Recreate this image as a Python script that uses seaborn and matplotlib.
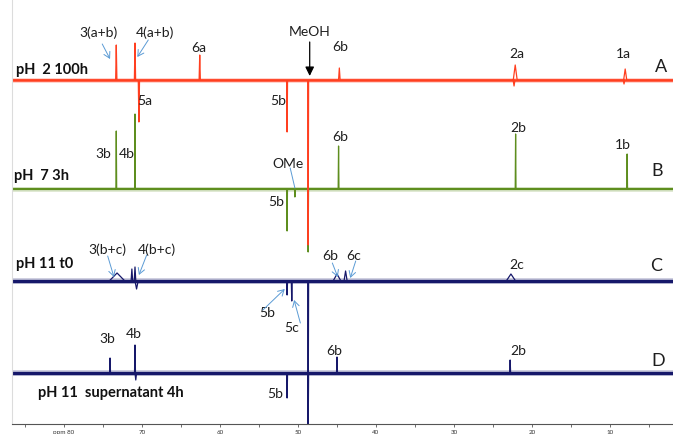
import numpy as np
import pandas as pd
import matplotlib
matplotlib.use("Agg")
import matplotlib.pyplot as plt
import seaborn as sns

# 13C NMR peak lists (chemical shift in ppm, signed intensity, line width in ppm)
spectra_names = ["A", "B", "C", "D"]
titles = ["pH  2 100h", "pH  7 3h", "pH 11 t0", "pH 11  supernatant 4h"]
colors = ["#FF3F20", "#5E8E1E", "#16186A", "#16186A"]

shifts_A = [73.3, 70.9, 70.4, 62.6, 51.4, 48.7, 44.7, 22.3, 22.15, 8.2, 8.05]
inten_A = [35, 37, -42, 25, -52, -165, 12, -6, 15, -4, 11]
width_A = [0.08, 0.08, 0.08, 0.08, 0.06, 0.06, 0.1, 0.12, 0.25, 0.1, 0.2]

shifts_B = [73.3, 70.9, 51.4, 50.4, 48.7, 44.8, 22.1, 7.8]
inten_B = [58, 75, -42, -8, -63, 43, 55, 35]
width_B = [0.05, 0.05, 0.05, 0.05, 0.05, 0.05, 0.05, 0.05]

shifts_C = [73.2, 71.3, 70.9, 70.7, 51.4, 50.8, 48.7, 45.0, 43.9, 22.7]
inten_C = [8, 12, 14, -8, -14, -20, -150, 7, 10, 7]
width_C = [1.0, 0.1, 0.1, 0.2, 0.06, 0.06, 0.06, 0.5, 0.2, 0.6]

shifts_D = [74.1, 70.9, 70.8, 51.4, 48.7, 45.0, 22.8]
inten_D = [15, 28, -7, -25, -60, 16, 13]
width_D = [0.06, 0.06, 0.1, 0.06, 0.06, 0.06, 0.06]

# axis tick values
major_ticks = [80, 70, 60, 50, 40, 30, 20, 10]
major_labels = ["ppm 80", "70", "60", "50", "40", "30", "20", "10"]
minor_ticks = [85, 75, 65, 55, 45, 35, 25, 15, 5]

peaks = {
    "A": (shifts_A, inten_A, width_A),
    "B": (shifts_B, inten_B, width_B),
    "C": (shifts_C, inten_C, width_C),
    "D": (shifts_D, inten_D, width_D),
}

X_LEFT, X_RIGHT = 86.67, 1.92
offsets = {"A": 344, "B": 235, "C": 143, "D": 51}
noise_lw = {"A": 1.8, "B": 1.6, "C": 2.4, "D": 2.4}


def trace(name):
    s, h, w = peaks[name]
    base = offsets[name]
    xs, ys = [X_LEFT], [base]
    for p, a, wd in sorted(zip(s, h, w), key=lambda t: -t[0]):
        xs += [p + wd, p, p - wd]
        ys += [base, base + a, base]
    xs.append(X_RIGHT)
    ys.append(base)
    return pd.DataFrame({"ppm": xs, "signal": ys})


sns.set_theme(style="white")
plt.rcParams["font.family"] = ["Lato", "DejaVu Sans"]

fig = plt.figure(figsize=(6.73, 4.34), dpi=100)
ax = fig.add_axes([12 / 673, 10 / 434, 661 / 673, 424 / 434])

# draw bottom spectrum first so the top one overlays it
for name, col in zip(reversed(spectra_names), reversed(colors)):
    df = trace(name)
    base = offsets[name]
    ax.plot([X_LEFT, X_RIGHT], [base, base], color=col, lw=noise_lw[name] + 1.8,
            alpha=0.22, solid_capstyle="butt")
    ax.plot([X_LEFT, X_RIGHT], [base, base], color=col, lw=noise_lw[name],
            solid_capstyle="butt")
    sns.lineplot(data=df, x="ppm", y="signal", sort=False, estimator=None,
                 color=col, lw=0.9, ax=ax)

ax.set_xlim(X_LEFT, X_RIGHT)
ax.set_ylim(0, 424)
ax.set_xlabel("")
ax.set_ylabel("")
ax.set_yticks([])
ax.set_xticks(major_ticks)
ax.set_xticklabels(major_labels)
ax.set_xticks(minor_ticks, minor=True)
ax.tick_params(axis="x", which="both", direction="out", length=2.5, width=0.6,
               color="#555555", labelsize=4.5, pad=2, labelcolor="#333333",
               bottom=True)
for side in ["top", "right"]:
    ax.spines[side].set_visible(False)
ax.spines["bottom"].set_color("#555555")
ax.spines["bottom"].set_linewidth(0.8)
ax.spines["left"].set_color("#dcdcdc")
ax.spines["left"].set_linewidth(0.8)

txt = dict(fontsize=10, color="#1e1e1e", ha="center", va="center")
labels = [
    ("3(a+b)", 75.6, 391), ("4(a+b)", 68.3, 391), ("6a", 62.7, 376),
    ("MeOH", 48.5, 392), ("6b", 44.6, 377), ("2a", 21.9, 370), ("1a", 8.3, 370),
    ("5a", 69.6, 323), ("5b", 52.6, 323),
    ("3b", 75.0, 270), ("4b", 71.9, 270), ("OMe", 51.3, 260), ("5b", 52.8, 222),
    ("6b", 44.6, 287), ("2b", 21.8, 296), ("1b", 8.3, 279),
    ("3(b+c)", 74.4, 174), ("4(b+c)", 68.1, 174), ("6b", 45.9, 168),
    ("6c", 42.9, 168), ("2c", 21.9, 159), ("5b", 54.0, 111), ("5c", 50.8, 96),
    ("3b", 74.4, 85), ("4b", 71.0, 90), ("6b", 45.4, 73), ("2b", 21.8, 73),
    ("5b", 52.9, 30),
]
for t, x, y in labels:
    ax.text(x, y, t, **txt)

for t, x, y in [("A", 3.5, 357), ("B", 4.0, 253), ("C", 4.1, 158), ("D", 3.8, 63)]:
    ax.text(x, y, t, fontsize=13, color="#1e1e1e", ha="center", va="center")

title_pos = [(86.1, 354), (86.4, 248), (86.1, 160), (83.3, 31)]
for t, (x, y) in zip(titles, title_pos):
    ax.text(x, y, t, fontsize=10.5, fontweight="bold", color="#111111",
            ha="left", va="center")

blue = "#5B9BD5"
arrows = [
    ((75.1, 380), (74.1, 365)), ((69.2, 384), (70.6, 367)),
    ((74.4, 168), (73.6, 147)), ((69.4, 169), (70.4, 149)),
    ((54.5, 114), (51.7, 135)), ((49.7, 101), (50.5, 124)),
    ((45.6, 161), (44.9, 147)), ((42.6, 163), (43.3, 146)),
]
for start, end in arrows:
    ax.annotate("", xy=end, xytext=start,
                arrowprops=dict(arrowstyle="->,head_length=0.35,head_width=0.2",
                                color=blue, lw=0.7, shrinkA=0, shrinkB=0))
ax.annotate("", xy=(50.4, 236), xytext=(51.0, 256),
            arrowprops=dict(arrowstyle="-", color=blue, lw=0.7,
                            shrinkA=0, shrinkB=0))
ax.annotate("", xy=(48.5, 348), xytext=(48.5, 382),
            arrowprops=dict(arrowstyle="-|>,head_length=0.45,head_width=0.22",
                            color="black", lw=0.9, shrinkA=0, shrinkB=0))

fig.savefig("out.png", dpi=100)
